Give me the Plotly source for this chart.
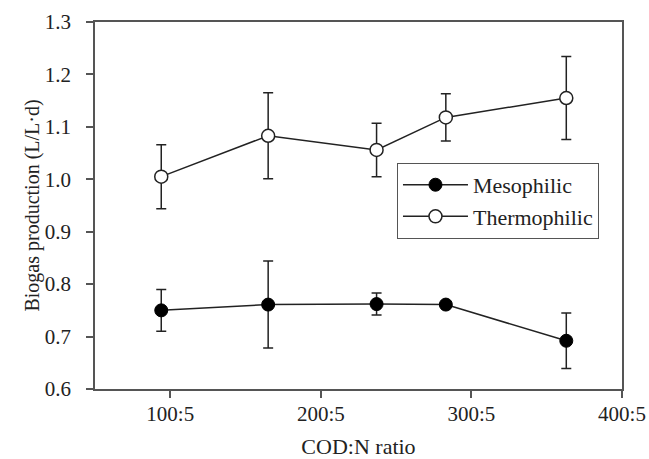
import plotly.graph_objects as go

# Data
cod_n = [94, 165, 237, 283, 363]
meso = [0.750, 0.761, 0.762, 0.761, 0.692]
meso_err = [0.040, 0.083, 0.021, 0.005, 0.053]
thermo = [1.005, 1.083, 1.056, 1.118, 1.155]
thermo_err = [0.061, 0.082, 0.051, 0.045, 0.079]
x_tickvals = [100, 200, 300, 400]
x_ticktext = ["100:5", "200:5", "300:5", "400:5"]

FONT = "Liberation Serif, Times New Roman, serif"
INK = "#222222"
AX = "#555555"

fig = go.Figure()
fig.add_trace(go.Scatter(
    x=cod_n, y=meso, name="Mesophilic", mode="lines+markers",
    line=dict(color=INK, width=1.5),
    marker=dict(symbol="circle", size=13, color="black", line=dict(color="black", width=1)),
    error_y=dict(type="data", array=meso_err, visible=True, color=INK, thickness=1.5, width=5),
))
fig.add_trace(go.Scatter(
    x=cod_n, y=thermo, name="Thermophilic", mode="lines+markers",
    line=dict(color=INK, width=1.5),
    marker=dict(symbol="circle", size=13, color="white", line=dict(color=INK, width=1.5)),
    error_y=dict(type="data", array=thermo_err, visible=True, color=INK, thickness=1.5, width=5),
))

fig.update_layout(
    width=649, height=459,
    margin=dict(l=95, r=27, t=22, b=70),
    paper_bgcolor="white", plot_bgcolor="white",
    font=dict(family=FONT, size=21, color=INK),
    showlegend=True,
    legend=dict(
        x=0.573, y=0.616, xanchor="left", yanchor="top",
        bordercolor=AX, borderwidth=1, bgcolor="white",
        font=dict(family=FONT, size=22, color=INK),
        tracegroupgap=0, itemwidth=65,
        entrywidth=165, entrywidthmode="pixels",
    ),
    xaxis=dict(
        range=[50, 400], tickvals=x_tickvals, ticktext=x_ticktext,
        showgrid=False, zeroline=False, automargin=False,
        showline=True, linecolor=AX, linewidth=1.5, mirror=True,
        ticks="outside", ticklen=7, tickwidth=1.5, tickcolor=AX,
        ticklabelstandoff=-2,
        tickfont=dict(family=FONT, size=21, color=INK),
        title=dict(text="COD:N ratio", font=dict(family=FONT, size=22, color=INK), standoff=19),
    ),
    yaxis=dict(
        range=[0.6, 1.3], dtick=0.1, tick0=0.6, tickformat=".1f",
        showgrid=False, zeroline=False, automargin=False,
        showline=True, linecolor=AX, linewidth=1.5, mirror=True,
        ticks="outside", ticklen=7, tickwidth=1.5, tickcolor=AX,
        ticklabelstandoff=11,
        tickfont=dict(family=FONT, size=21, color=INK),
        title=dict(text="Biogas production (L/L·d)", font=dict(family=FONT, size=20, color=INK), standoff=0),
    ),
)

fig.write_html("out.html", config={"displayModeBar": False},
               post_script="document.body.style.margin='0';")
